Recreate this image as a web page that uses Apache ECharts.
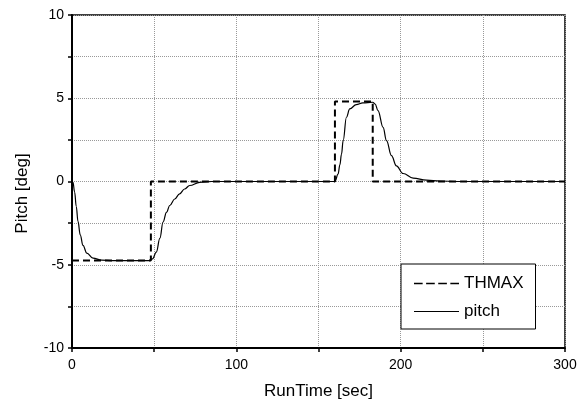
<!DOCTYPE html>
<html>
<head>
<meta charset="utf-8">
<script src="https://cdn.jsdelivr.net/npm/echarts@6/dist/echarts.min.js"></script>
<style>html,body{margin:0;padding:0;background:#fff}#c{width:584px;height:405px}</style>
</head>
<body>
<div id="c"></div>
<script>
// THMAX command (time [sec], pitch [deg])
const thmaxTime = [0, 48, 48, 160, 160, 183, 183, 300];
const thmaxVal  = [-4.75, -4.75, 0, 0, 4.8, 4.8, 0, 0];
// pitch response
const pitchTime = [0, 0.6, 1.6, 2.6, 3.65, 5, 6.7, 9, 12.8, 18, 25, 47, 49, 51.3, 53.5, 55.4, 57.5, 59.5, 62.5, 65.5, 68.5, 71.6, 77.7, 85, 160, 161.9, 163, 164, 165, 167, 169, 173, 177, 183, 184.5, 186.2, 189.3, 191.4, 194.4, 197.4, 201.5, 207.6, 215.7, 224, 235, 300];
const pitchVal  = [0, -0.05, -0.64, -1.5, -2.4, -3.2, -3.84, -4.3, -4.6, -4.72, -4.75, -4.75, -4.65, -4.24, -3.4, -2.44, -1.85, -1.44, -1.05, -0.74, -0.45, -0.24, -0.05, 0, 0, 0.44, 1.0, 1.65, 2.45, 3.86, 4.36, 4.62, 4.72, 4.76, 4.65, 4.26, 3.25, 2.45, 1.55, 0.94, 0.48, 0.2, 0.08, 0.03, 0, 0];
const xTicks = [0, 100, 200, 300];
const yTicks = [-10, -5, 0, 5, 10];

const zip = (a, b) => a.map((v, i) => [v, b[i]]);
const font = '"Liberation Sans", Arial, sans-serif';
const chart = echarts.init(document.getElementById('c'), null, {renderer: 'canvas'});
chart.setOption({
  animation: false,
  backgroundColor: '#fff',
  grid: {left: 72, right: 19, top: 15, bottom: 57, show: true, borderColor: '#000', borderWidth: 1.5},
  xAxis: {
    type: 'value', min: 0, max: 300, interval: 50,
    name: 'RunTime [sec]', nameLocation: 'middle', nameGap: 35,
    nameTextStyle: {fontFamily: font, fontSize: 17, color: '#000'},
    axisLine: {onZero: false, lineStyle: {color: '#000', width: 2}},
    axisTick: {inside: false, length: 4, lineStyle: {color: '#000', width: 1.5}},
    axisLabel: {fontFamily: font, fontSize: 14, color: '#000', margin: 10,
      formatter: v => xTicks.includes(v) ? String(v) : ''},
    splitLine: {show: true, lineStyle: {color: '#999', type: 'dotted', width: 1}}
  },
  yAxis: {
    type: 'value', min: -10, max: 10, interval: 2.5,
    name: 'Pitch [deg]', nameLocation: 'middle', nameGap: 41,
    nameTextStyle: {fontFamily: font, fontSize: 17, color: '#000', padding: [0, 24, 0, 0]},
    axisLine: {onZero: false, lineStyle: {color: '#000', width: 2}},
    axisTick: {inside: false, length: 4, lineStyle: {color: '#000', width: 1.5}},
    axisLabel: {fontFamily: font, fontSize: 14, color: '#000', margin: 8,
      formatter: v => yTicks.includes(v) ? String(v) : ''},
    splitLine: {show: true, lineStyle: {color: '#999', type: 'dotted', width: 1}}
  },
  legend: {
    orient: 'vertical', left: 401, top: 264,
    padding: [11, 12, 9, 13], itemGap: 11, itemWidth: 45, itemHeight: 14,
    borderColor: '#000', borderWidth: 1, backgroundColor: '#fff',
    textStyle: {fontFamily: font, fontSize: 17, color: '#000'},
    data: [{name: 'THMAX', icon: 'path://M0,6H10V8H0Z M14,6H24V8H14Z M28,6H38V8H28Z M42,6H52V8H42Z'}, {name: 'pitch', icon: 'path://M0,6.5H52V7.5H0Z'}]
  },
  series: [
    {name: 'THMAX', type: 'line', data: zip(thmaxTime, thmaxVal), showSymbol: false, symbol: 'none',
     lineStyle: {color: '#000', width: 2, type: [7, 4]}, itemStyle: {color: '#000'}, z: 3},
    {name: 'pitch', type: 'line', data: zip(pitchTime, pitchVal), showSymbol: false, symbol: 'none',
     smooth: 0.4, smoothMonotone: 'x',
     lineStyle: {color: '#000', width: 1.2}, itemStyle: {color: '#000'}, z: 4}
  ]
});
</script>
</body>
</html>
